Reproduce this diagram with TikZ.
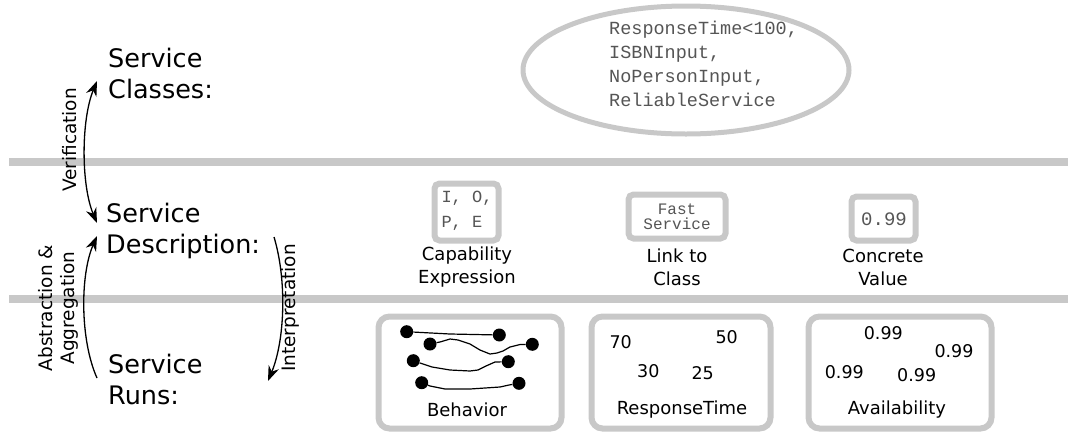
\documentclass[tikz,border=0pt]{standalone}
\usepackage{fontspec}
\setmainfont{DejaVu Sans}
\newfontfamily\monofnt{Liberation Mono}
\usetikzlibrary{arrows.meta,shapes.geometric}
\definecolor{bandgray}{HTML}{C8C8C8}
\definecolor{monotext}{HTML}{555555}
\tikzset{
  band/.style={draw=bandgray,line width=8pt},
  bigtxt/.style={font=\fontsize{25.5}{31}\selectfont,align=left,anchor=west,inner sep=0pt},
  smalltxt/.style={font=\fontsize{18}{23}\selectfont,align=center,inner sep=0pt},
  numtxt/.style={font=\fontsize{17.5}{20}\selectfont,inner sep=0pt},
  rotlbl/.style={font=\fontsize{18.5}{22}\selectfont,align=center,rotate=90,inner sep=0pt},
  flow/.style={line width=1.3pt},
  tip/.style={-{Stealth[length=15pt,width=11pt]}},
  dtip/.style={{Stealth[length=15pt,width=11pt]}-{Stealth[length=15pt,width=11pt]}},
  smallbox/.style={draw=bandgray,line width=6pt,rounded corners=5pt,fill=white},
  bigbox/.style={draw=bandgray,line width=6pt,rounded corners=11pt,fill=white},
  dot/.style={circle,fill=black,minimum size=13pt,inner sep=0pt},
  wire/.style={line width=1.2pt},
}
\begin{document}
\begin{tikzpicture}[x=1pt,y=-1pt]
\useasboundingbox (0,0) rectangle (1068,437);
% bands
\draw[band] (9,162) -- (1068,162);
\draw[band] (9,299) -- (1068,299);
% level labels
\node[bigtxt] (cls) at (108,73) {Service\\Classes:};
\node[bigtxt] (desc) at (106,231) {Service\\Description:};
\node[bigtxt] (runs) at (108,379) {Service\\Runs:};
% arrows
\coordinate (vtop) at (97,81);
\coordinate (vbot) at (97,223);
\coordinate (atop) at (97,236);
\coordinate (abot) at (97,378);
\coordinate (itop) at (274,237);
\coordinate (ibot) at (268,381);
\draw[flow,dtip] (vtop) .. controls (81,120) and (81,185) .. (vbot);
\draw[flow,tip] (abot) .. controls (80,340) and (80,275) .. (atop);
\draw[flow,tip] (itop) .. controls (287,280) and (285,340) .. (ibot);
\node[rotlbl] (verl) at (70,140) {Verification};
\node[rotlbl] (absl) at (58,308) {Abstraction \&\\Aggregation};
\node[rotlbl] (intl) at (290,308) {Interpretation};
% ellipse
\node[ellipse,draw=bandgray,line width=5pt,minimum width=326pt,minimum height=128pt] (ell) at (686,70) {};
\node[font=\monofnt\fontsize{18.5}{24}\selectfont,text=monotext,align=left,anchor=north west,inner sep=0pt] (elltxt) at (609,21) {ResponseTime<100,\\ISBNInput,\\NoPersonInput,\\ReliableService};
% middle row boxes
\node[smallbox,minimum width=64pt,minimum height=57pt] (capbox) at (466.5,212) {};
\node[font=\monofnt\fontsize{17}{25}\selectfont,text=monotext,align=left,inner sep=0pt] (captxt) at (467,211) {I, O,\\P, E};
\node[smallbox,minimum width=97pt,minimum height=44pt] (linkbox) at (677,216.5) {};
\node[font=\monofnt\fontsize{16}{15}\selectfont,text=monotext,align=center,inner sep=0pt] (linktxt) at (677,216.5) {Fast\\Service};
\node[smallbox,minimum width=64pt,minimum height=44pt] (valbox) at (883.5,218.5) {};
\node[font=\monofnt\fontsize{19}{22}\selectfont,text=monotext,inner sep=0pt] (valtxt) at (884,219) {0.99};
\node[smalltxt] (capl) at (467,267) {Capability\\Expression};
\node[smalltxt] (linkl) at (677,267) {Link to\\Class};
\node[smalltxt] (vall) at (883,267) {Concrete\\Value};
% bottom row boxes
\node[bigbox,minimum width=183pt,minimum height=112pt] (behbox) at (470,372.5) {};
\node[bigbox,minimum width=179pt,minimum height=112pt] (rtbox) at (681,372.5) {};
\node[bigbox,minimum width=183pt,minimum height=112pt] (avbox) at (900,372.5) {};
% behavior
\node[dot] (d1) at (406.7,331.7) {};
\node[dot] (d2) at (499.3,335) {};
\node[dot] (d3) at (430,344) {};
\node[dot] (d4) at (532.3,344.3) {};
\node[dot] (d5) at (413.3,360.7) {};
\node[dot] (d6) at (508.3,361.7) {};
\node[dot] (d7) at (421.7,382.7) {};
\node[dot] (d8) at (519,383.3) {};
\draw[wire] (d1) -- (450,334) -- (d2);
\draw[wire] (d3) -- (440,342) -- (450,339) -- (458,340) -- (470,344) -- (480,350) -- (490,354) -- (497,353) -- (503,351) -- (510,347) -- (520,344.5) -- (d4);
\draw[wire] (d5) -- (420,363) -- (432,367) -- (450,370) -- (470,371) -- (478,370) -- (486,366) -- (495,362) -- (d6);
\draw[wire] (d7) -- (430,386) -- (445,389) -- (470,389) -- (500,387) -- (509,385) -- (d8);
\node[smalltxt] (behl) at (467,410) {Behavior};
% response time
\node[numtxt] (rt1) at (620.7,341.7) {70};
\node[numtxt] (rt2) at (726.7,337.3) {50};
\node[numtxt] (rt3) at (648.3,370.7) {30};
\node[numtxt] (rt4) at (702.7,372.7) {25};
\node[smalltxt] (rtl) at (682,410) {ResponseTime};
% availability
\node[numtxt] (av1) at (883.3,333.3) {0.99};
\node[numtxt] (av2) at (954,350.7) {0.99};
\node[numtxt] (av3) at (844.3,372.3) {0.99};
\node[numtxt] (av4) at (916.7,375) {0.99};
\node[smalltxt] (avl) at (897,410) {Availability};
\end{tikzpicture}
\end{document}
